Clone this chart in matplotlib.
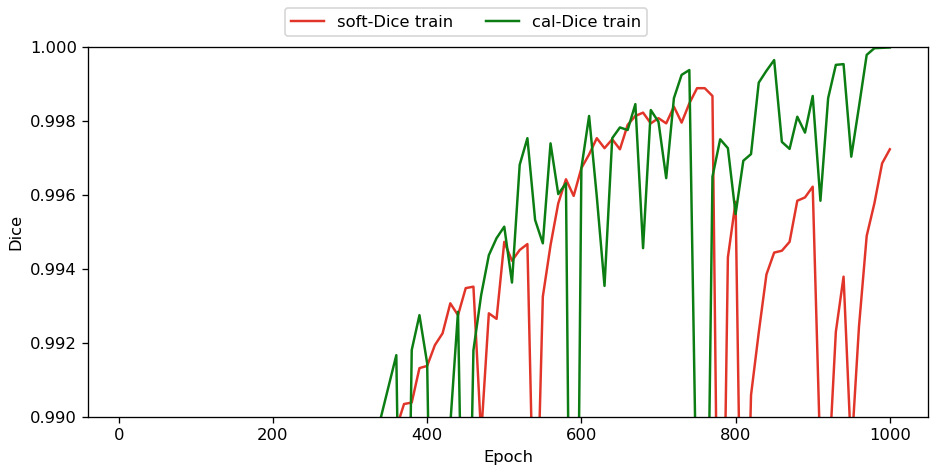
import numpy as np
import matplotlib
matplotlib.use("Agg")
import matplotlib.pyplot as plt

# epochs 10..1000, one value every 10 epochs
epochs = list(range(10, 1001, 10))

# soft-Dice train (values below 0.99 are outside the shown window)
soft_dice = [
    0.600, 0.760, 0.840, 0.880, 0.905, 0.920, 0.932, 0.941, 0.948, 0.954,
    0.959, 0.963, 0.966, 0.969, 0.971, 0.973, 0.975, 0.977, 0.978, 0.979,
    0.980, 0.981, 0.982, 0.983, 0.984, 0.9845, 0.985, 0.9855, 0.986, 0.9865,
    0.987, 0.9875, 0.988, 0.9885, 0.9890,
    0.9897, 0.99035, 0.99039, 0.99132, 0.99138, 0.99194, 0.99226, 0.99307, 0.99275, 0.99348,
    0.99352, 0.9895, 0.99280, 0.99265, 0.99473, 0.99422, 0.99451, 0.99467, 0.9853, 0.99325,
    0.99464, 0.99577, 0.99642, 0.99597, 0.99672, 0.99709, 0.99753, 0.99726, 0.99750, 0.99723,
    0.99789, 0.99813, 0.99822, 0.99793, 0.99807, 0.99793, 0.99838, 0.99795, 0.99847, 0.99888,
    0.99888, 0.99867, 0.9800, 0.99431, 0.99581, 0.9820, 0.99059, 0.99228, 0.99385, 0.99444,
    0.99449, 0.99473, 0.99584, 0.99593, 0.99622, 0.9888, 0.9883, 0.99230, 0.99379, 0.9890,
    0.99244, 0.99489, 0.99577, 0.99685, 0.99723,
]

# cal-Dice train
cal_dice = [
    0.620, 0.780, 0.850, 0.890, 0.912, 0.928, 0.939, 0.947, 0.953, 0.958,
    0.962, 0.966, 0.969, 0.971, 0.973, 0.975, 0.977, 0.978, 0.979, 0.980,
    0.981, 0.982, 0.983, 0.984, 0.9845, 0.985, 0.9855, 0.986, 0.9865, 0.987,
    0.9875, 0.988, 0.9885,
    0.98999, 0.99083, 0.99167, 0.9780, 0.99181, 0.99275, 0.99145, 0.9790, 0.9830, 0.9898,
    0.99284, 0.9810, 0.99180, 0.99329, 0.99437, 0.99483, 0.99514, 0.99363, 0.99681, 0.99753,
    0.99532, 0.99469, 0.99739, 0.99602, 0.99631, 0.9740, 0.99672, 0.99813, 0.99595, 0.99354,
    0.99753, 0.99782, 0.99775, 0.99845, 0.99456, 0.99829, 0.99797, 0.99645, 0.99861, 0.99924,
    0.99937, 0.9867, 0.9800, 0.99649, 0.99750, 0.99726, 0.99548, 0.99692, 0.99710, 0.99903,
    0.99935, 0.99964, 0.99743, 0.99724, 0.99811, 0.99768, 0.99867, 0.99584, 0.99861, 0.99951,
    0.99953, 0.99703, 0.99838, 0.99978, 0.99996, 0.99997, 0.99998,
]

RED = "#e2352a"
GREEN = "#0b7d12"

DPI = 118
fig = plt.figure(figsize=(932 / DPI, 470 / DPI), dpi=DPI)
ax = fig.add_axes([0.0947, 0.1128, 0.9010, 0.7878])

ax.plot(epochs, soft_dice, color=RED, linewidth=1.5, label="soft-Dice train")
ax.plot(epochs, cal_dice, color=GREEN, linewidth=1.5, label="cal-Dice train")

ax.set_ylim(0.990, 1.000)
ax.set_xlim(-39.5, 1049.5)
ax.set_yticks([0.990, 0.992, 0.994, 0.996, 0.998, 1.000])
ax.set_yticklabels(["0.990", "0.992", "0.994", "0.996", "0.998", "1.000"])
ax.set_xticks([0, 200, 400, 600, 800, 1000])
ax.set_xlabel("Epoch")
ax.set_ylabel("Dice")

fig.legend(loc="upper center", ncol=2, bbox_to_anchor=(0.5, 1.0),
           handlelength=2.0, columnspacing=2.0)

fig.savefig("out.png", dpi=DPI)
